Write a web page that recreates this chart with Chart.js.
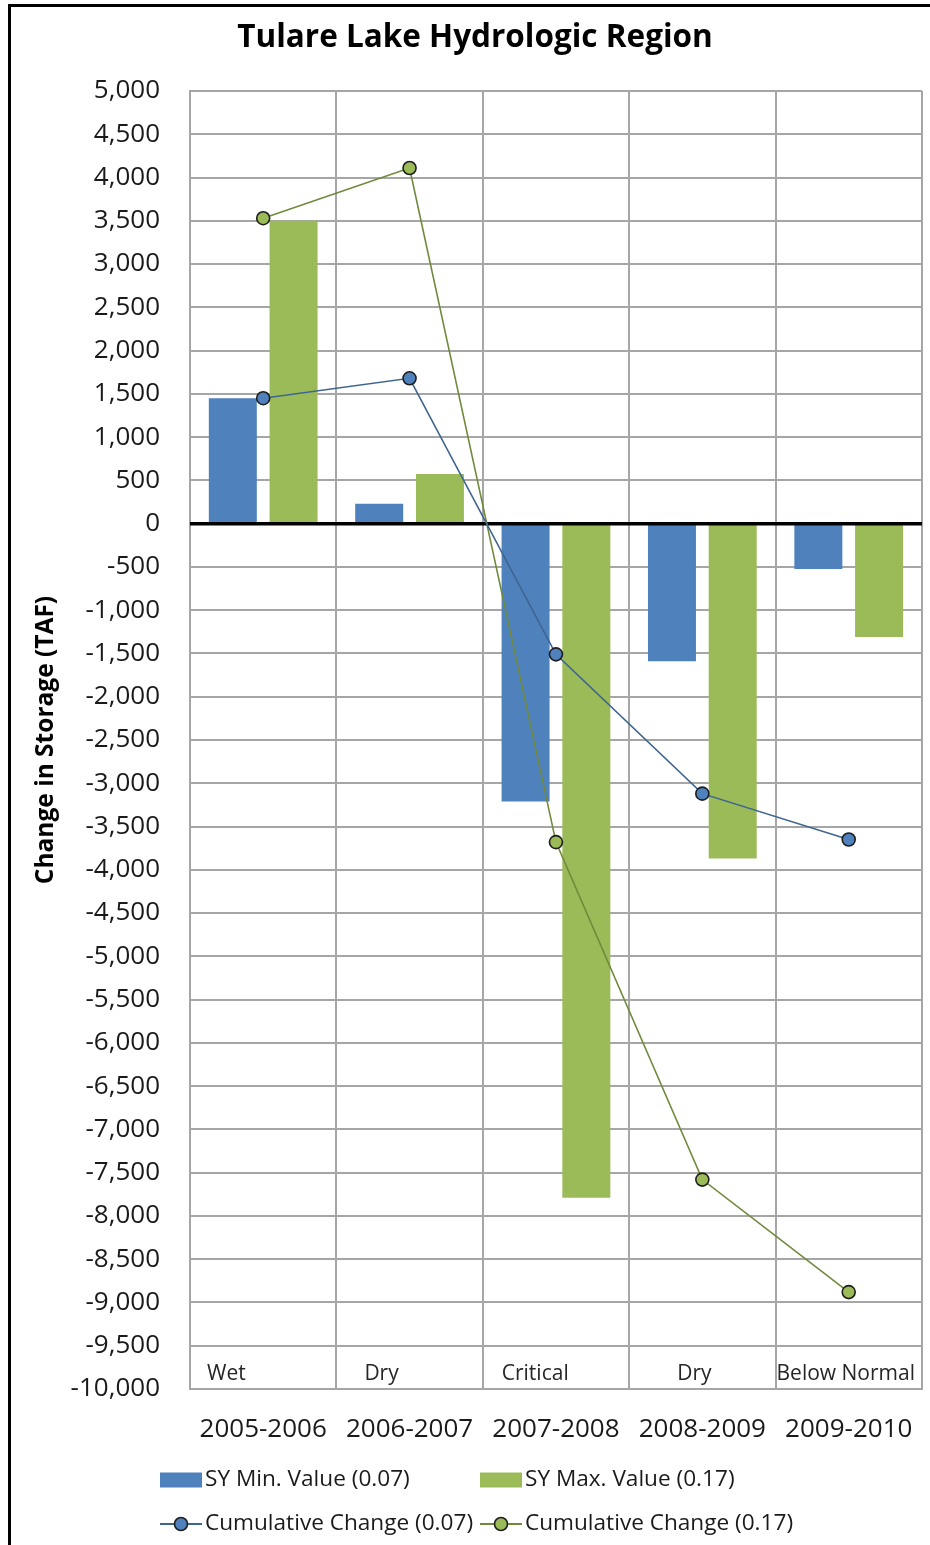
<!DOCTYPE html>
<html>
<head>
<meta charset="utf-8">
<title>Tulare Lake Hydrologic Region</title>
<script src="https://cdn.jsdelivr.net/npm/chart.js@4.4.1/dist/chart.umd.min.js"></script>
<style>
  html, body { margin: 0; padding: 0; background: #fff; }
  #wrap { position: relative; width: 930px; height: 1545px; overflow: hidden; }
  #frame { position: absolute; left: 8px; top: 4px; width: 1000px; height: 1600px;
           border-left: 3px solid #000; border-top: 3px solid #000; pointer-events: none; }
  canvas { position: absolute; left: 0; top: 0; }
</style>
</head>
<body>
<div id="wrap">
  <canvas id="chart" width="930" height="1545"></canvas>
  <div id="frame"></div>
</div>
<script>
// Water years and their hydrologic classification
const waterYears = ['2005-2006', '2006-2007', '2007-2008', '2008-2009', '2009-2010'];
const yearTypes = ['Wet', 'Dry', 'Critical', 'Dry', 'Below Normal'];

// Annual change in groundwater storage (TAF) for the two specific-yield cases
const syMinChange = [1450, 230, -3210, -1590, -525];
const syMaxChange = [3500, 575, -7790, -3870, -1310];

// Cumulative change in storage (TAF)
const cumMinChange = [1450, 1680, -1510, -3120, -3650];
const cumMaxChange = [3530, 4110, -3680, -7580, -8880];

// Y axis range and step
const yMin = -10000, yMax = 5000, yStep = 500;

// Horizontal offset (px) of each year-type label from the left edge of its category
const yearTypeOffsets = [17, 28, 19, 48, 1];

const FONT = "'Open Sans', 'DejaVu Sans', sans-serif";
const TEXT = '#1a1a1a';
const GRID = '#a6a6a6';

Chart.defaults.font.family = FONT;

const decorPlugin = {
  id: 'decor',
  beforeDatasetsDraw(chart) { chart.$zeroDrawn = false; },
  beforeDatasetDraw(chart, args) {
    // axis line at zero sits above the bars but under the cumulative lines
    if (args.meta.type === 'line' && !chart.$zeroDrawn) {
      chart.$zeroDrawn = true;
      const { ctx, chartArea } = chart;
      const y0 = chart.scales.y.getPixelForValue(0);
      ctx.save();
      ctx.strokeStyle = '#000';
      ctx.lineWidth = 3.5;
      ctx.beginPath();
      ctx.moveTo(chartArea.left, y0);
      ctx.lineTo(chartArea.right, y0);
      ctx.stroke();
      ctx.restore();
    }
  },
  afterDraw(chart) {
    const { ctx } = chart;
    const xs = chart.scales.x, ys = chart.scales.y;
    ctx.save();

    // chart title
    ctx.fillStyle = '#000';
    ctx.font = `bold 31.5px ${FONT}`;
    ctx.textAlign = 'center';
    ctx.textBaseline = 'middle';
    ctx.fillText('Tulare Lake Hydrologic Region', 475, 38);

    // year-type labels along the bottom of the plot
    const catW = (xs.right - xs.left) / waterYears.length;
    ctx.font = `21px ${FONT}`;
    ctx.fillStyle = '#262626';
    ctx.textAlign = 'left';
    ctx.textBaseline = 'alphabetic';
    const baseY = ys.getPixelForValue(yMin) - 9;
    yearTypes.forEach((t, i) => {
      const left = xs.getPixelForValue(i) - catW / 2;
      ctx.fillText(t, left + yearTypeOffsets[i], baseY);
    });

    // legend, two columns by two rows
    const cols = [160, 480];
    const rows = [1480, 1524];
    const items = chart.data.datasets.map((ds, i) => ({ ds, col: cols[i % 2], row: rows[Math.floor(i / 2)] }));
    ctx.font = `22.6px ${FONT}`;
    ctx.textBaseline = 'middle';
    items.forEach(({ ds, col, row }) => {
      if (ds.type === 'bar') {
        ctx.fillStyle = ds.backgroundColor;
        ctx.fillRect(col, row - 7.5, 42, 15);
      } else {
        ctx.strokeStyle = ds.borderColor;
        ctx.lineWidth = 2;
        ctx.beginPath();
        ctx.moveTo(col, row);
        ctx.lineTo(col + 42, row);
        ctx.stroke();
        ctx.beginPath();
        ctx.arc(col + 21, row, ds.pointRadius, 0, Math.PI * 2);
        ctx.fillStyle = ds.pointBackgroundColor;
        ctx.fill();
        ctx.lineWidth = ds.pointBorderWidth;
        ctx.strokeStyle = ds.pointBorderColor;
        ctx.stroke();
      }
      ctx.fillStyle = TEXT;
      ctx.fillText(ds.label, col + 45, row);
    });
    ctx.restore();
  }
};

new Chart(document.getElementById('chart'), {
  data: {
    labels: waterYears,
    datasets: [
      { type: 'bar', label: 'SY Min. Value (0.07)', data: syMinChange,
        backgroundColor: '#4f81bd', barPercentage: 0.79, categoryPercentage: 0.83, order: 2 },
      { type: 'bar', label: 'SY Max. Value (0.17)', data: syMaxChange,
        backgroundColor: '#9bbb59', barPercentage: 0.79, categoryPercentage: 0.83, order: 2 },
      { type: 'line', label: 'Cumulative Change (0.07)', data: cumMinChange,
        borderColor: '#3e6590', borderWidth: 1.6, tension: 0,
        pointRadius: 6.5, pointBackgroundColor: '#4f81bd', pointBorderColor: '#1e1e1e', pointBorderWidth: 1.6,
        order: 1 },
      { type: 'line', label: 'Cumulative Change (0.17)', data: cumMaxChange,
        borderColor: '#6f8a3c', borderWidth: 1.6, tension: 0,
        pointRadius: 6.5, pointBackgroundColor: '#9bbb59', pointBorderColor: '#1e1e1e', pointBorderWidth: 1.6,
        order: 1 }
    ]
  },
  options: {
    responsive: false,
    animation: false,
    devicePixelRatio: 1,
    layout: { padding: { top: 91, right: 8, bottom: 0, left: 0 } },
    plugins: {
      legend: { display: false },
      title: { display: false },
      tooltip: { enabled: false }
    },
    scales: {
      x: {
        grid: { color: GRID, lineWidth: 2, drawTicks: false },
        border: { color: GRID, width: 2 },
        ticks: { color: TEXT, font: { size: 26 }, padding: 25, maxRotation: 0, autoSkip: false },
        afterFit: s => { s.height = 156; s.paddingLeft = 0; s.paddingRight = 0; }
      },
      y: {
        min: yMin, max: yMax,
        grid: { color: GRID, lineWidth: 2, drawTicks: false },
        border: { color: GRID, width: 2 },
        ticks: {
          stepSize: yStep, color: TEXT, font: { size: 26 }, padding: 30, autoSkip: false,
          callback: v => Number(v).toLocaleString('en-US')
        },
        title: {
          display: true, text: 'Change in Storage (TAF)', color: '#000',
          font: { size: 24.5, weight: 'bold' }, padding: 31
        },
        afterFit: s => { s.width = 190; s.paddingTop = 0; s.paddingBottom = 0; }
      }
    }
  },
  plugins: [decorPlugin]
});
</script>
</body>
</html>
